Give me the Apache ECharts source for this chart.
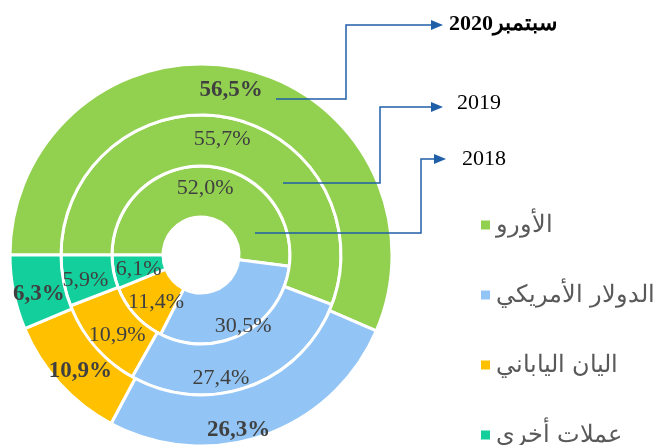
<!DOCTYPE html>
<html>
<head>
<meta charset="utf-8">
<script src="https://cdn.jsdelivr.net/npm/echarts@6/dist/echarts.min.js"></script>
<style>
  html, body { margin: 0; padding: 0; background: #fff; }
  #chart { width: 654px; height: 445px; }
</style>
</head>
<body>
<div id="chart"></div>
<script>
  // data (percent shares of reserves by currency)
  const currencies = ['الأورو', 'الدولار الأمريكي', 'اليان الياباني', 'عملات أخرى']
  const years = ['سبتمبر2020', '2019', '2018']
  const share2020 = [56.5, 26.3, 10.9, 6.3]
  const share2019 = [55.7, 27.4, 10.9, 5.9]
  const share2018 = [52.0, 30.5, 11.4, 6.1]

  const colors = ['#92D050', '#92C5F5', '#FFC000', '#13CF9B']
  const serif = "'Times New Roman', 'Liberation Serif', serif"
  const lineColor = '#1F5FA8'
  const center = [201, 255]

  // small nudges of the slice labels, like in the original
  const nudge2018 = [[0, 0], [11, 12], [4, 2], [3, 2]]
  const nudge2019 = [[0, 0], [-20, 13], [5, 3], [0, 4]]
  const nudge2020 = [[-4, 0], [-18, 16], [4, 3], [3, 6]]

  function ring (name, values, radius, size, weight, nudge) {
    return {
      type: 'pie',
      name: name,
      radius: radius,
      center: center,
      startAngle: 180,
      clockwise: true,
      silent: true,
      animation: false,
      avoidLabelOverlap: false,
      itemStyle: { borderColor: '#fff', borderWidth: 3 },
      label: {
        show: true,
        position: 'inside',
        formatter: p => p.value.toFixed(1).replace('.', ',') + '%',
        fontFamily: serif,
        fontSize: size,
        fontWeight: weight,
        color: '#404040'
      },
      labelLine: { show: false },
      labelLayout: { hideOverlap: false },
      emphasis: { disabled: true },
      data: currencies.map((c, i) => ({
        name: c,
        value: values[i],
        itemStyle: { color: colors[i] },
        label: { offset: nudge[i] }
      }))
    }
  }

  // callout arrows from each ring to its year label
  const callouts = [
    { from: [276, 99], elbow: 346, top: 25, tip: 443, textX: 449, textY: 24, bold: true },
    { from: [283, 183], elbow: 380, top: 107, tip: 443, textX: 457, textY: 103, bold: false },
    { from: [255, 233], elbow: 421, top: 159, tip: 446, textX: 462, textY: 159, bold: false }
  ]
  const graphics = []
  callouts.forEach((c, i) => {
    graphics.push({
      type: 'polyline',
      silent: true,
      z: 100,
      shape: { points: [c.from, [c.elbow, c.from[1]], [c.elbow, c.top], [c.tip - 8, c.top]] },
      style: { stroke: lineColor, lineWidth: 1.5, fill: null }
    })
    graphics.push({
      type: 'polygon',
      silent: true,
      z: 100,
      shape: { points: [[c.tip - 12, c.top - 5], [c.tip, c.top], [c.tip - 12, c.top + 5]] },
      style: { fill: lineColor }
    })
    graphics.push({
      type: 'text',
      silent: true,
      z: 100,
      x: c.textX,
      y: c.textY,
      style: {
        text: years[i],
        font: (c.bold ? 'bold ' : '') + '22px ' + serif,
        fill: '#000',
        verticalAlign: 'middle'
      }
    })
  })

  const mychart = echarts.init(document.getElementById('chart'))
  mychart.setOption({
    animation: false,
    legend: {
      data: currencies,
      orient: 'vertical',
      left: 479,
      top: 213,
      height: 600,
      padding: 0,
      icon: 'rect',
      itemWidth: 11,
      itemHeight: 11,
      itemGap: 46,
      selectedMode: false,
      textStyle: {
        fontFamily: "'Arial', 'Liberation Sans', sans-serif",
        fontSize: 24,
        color: '#595959'
      }
    },
    graphic: graphics,
    series: [
      ring('2018', share2018, [38, 89], 22, 'normal', nudge2018),
      ring('2019', share2019, [89, 140], 22, 'normal', nudge2019),
      ring('2020', share2020, [140, 191], 23, 'bold', nudge2020)
    ]
  })
</script>
</body>
</html>
